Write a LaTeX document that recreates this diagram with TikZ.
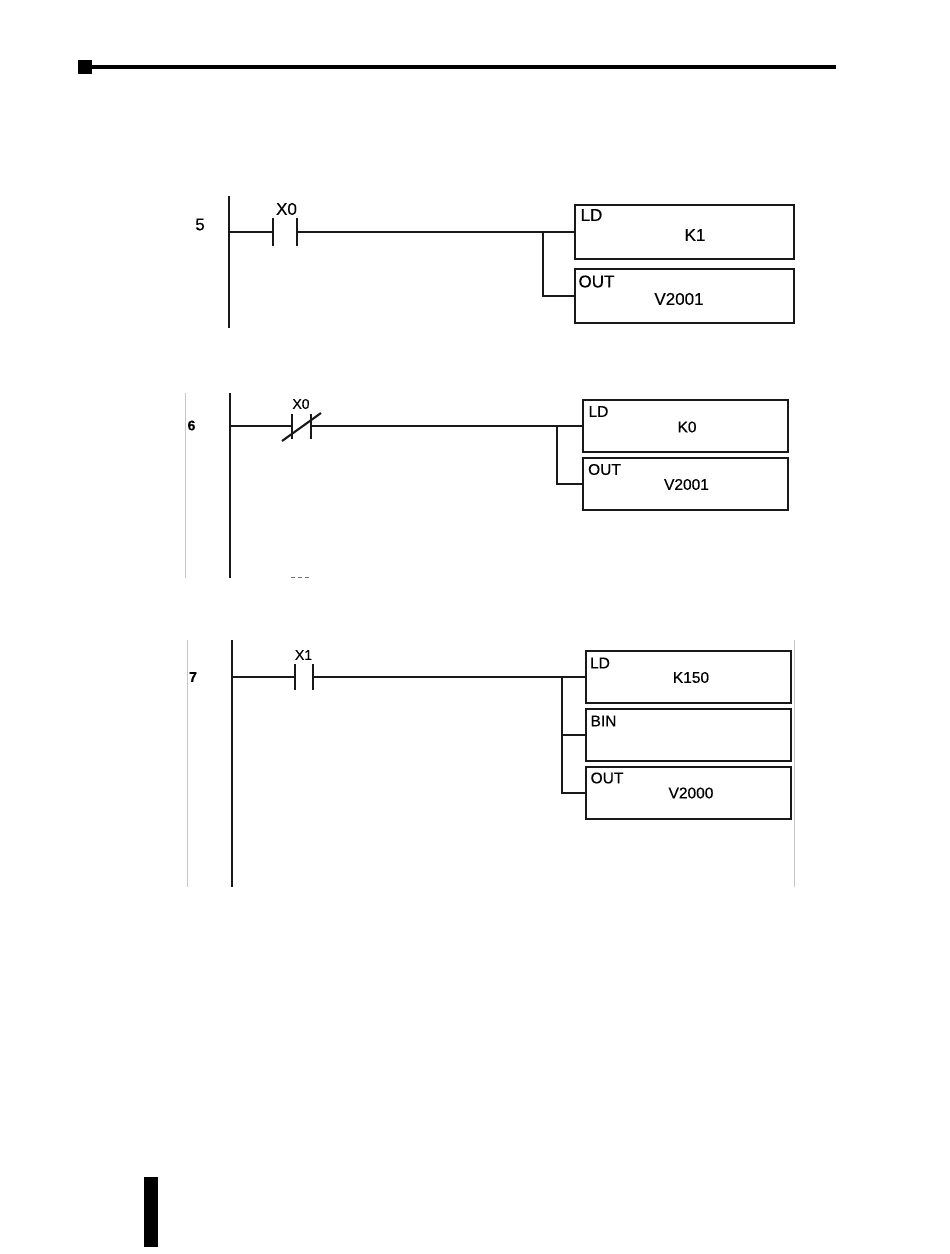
\documentclass[tikz,border=0pt]{standalone}
\usepackage{fontspec}
\setmainfont{Liberation Sans}
\newfontfamily\heavyf[FakeBold=0.35]{Liberation Sans}
\tikzset{
  wire/.style={line width=2.1pt,color=black!90},
  pbox/.style={draw=black!90,line width=2.4pt,fill=white,minimum width=#1,inner sep=0pt,outer sep=0pt},
  txtA/.style={font=\heavyf\fontsize{17}{18}\selectfont,inner sep=0pt},
  txtB/.style={font=\heavyf\fontsize{15.5}{16}\selectfont,inner sep=0pt},
  txtC/.style={font=\heavyf\fontsize{14}{15}\selectfont,inner sep=0pt},
  faint/.style={line width=0.7pt,color=black!22}
}
\begin{document}
\begin{tikzpicture}[x=1pt,y=-1pt]
\useasboundingbox (0,0) rectangle (950,1254);
% page furniture
\fill (78,60) rectangle (92,74);
\fill (92,64.5) rectangle (836,69);
\fill (144,1177) rectangle (158,1247);

% rung 5
\coordinate (r1t) at (229,196); \coordinate (r1b) at (229,328); \coordinate (r1) at (229,232);
\coordinate (c1a) at (273,232); \coordinate (c1b) at (297,232);
\coordinate (c1at) at (273,218); \coordinate (c1ab) at (273,246);
\coordinate (c1bt) at (297,218); \coordinate (c1bb) at (297,246);
\coordinate (j1) at (543,232);
\node[pbox=219pt,minimum height=54pt] (ld1) at (684.5,232) {};
\node[pbox=219pt,minimum height=54pt] (out1) at (684.5,296) {};
\draw[wire] (r1t) -- (r1b);
\draw[wire] (r1) -- (c1a);
\draw[wire] (c1at) -- (c1ab);
\draw[wire] (c1bt) -- (c1bb);
\draw[wire] (c1b) -- (ld1.west);
\draw[wire] (j1) |- (out1.west);
\node[txtA] (t5) at (200,224.5) {5};
\node[txtA] (x0a) at (286.5,209) {X0};
\node[txtA] (ldt1) at (591.5,215) {LD};
\node[txtA] (k1) at (695,235) {K1};
\node[txtA] (outt1) at (596.5,281.5) {OUT};
\node[txtA] (v1) at (679,299) {V2001};

% rung 6
\draw[faint] (185,393) -- (185,578);
\coordinate (r2t) at (230,393); \coordinate (r2b) at (230,578); \coordinate (r2) at (230,426);
\coordinate (c2a) at (292,426); \coordinate (c2b) at (311,426);
\coordinate (c2at) at (292,414); \coordinate (c2ab) at (292,439);
\coordinate (c2bt) at (311,414); \coordinate (c2bb) at (311,439);
\coordinate (c2sa) at (282,441); \coordinate (c2sb) at (321,413);
\coordinate (j2) at (557,426);
\node[pbox=205pt,minimum height=52pt] (ld2) at (685.5,426) {};
\node[pbox=205pt,minimum height=52pt] (out2) at (685.5,484) {};
\draw[wire] (r2t) -- (r2b);
\draw[wire] (r2) -- (c2a);
\draw[wire] (c2at) -- (c2ab);
\draw[wire] (c2bt) -- (c2bb);
\draw[wire] (c2sa) -- (c2sb);
\draw[wire] (c2b) -- (ld2.west);
\draw[wire] (j2) |- (out2.west);
\node[txtC] (t6) at (191.5,425.5) {\bfseries 6};
\node[txtC] (x0b) at (301,404) {X0};
\node[txtB] (ldt2) at (598.5,411.5) {LD};
\node[txtB] (k0) at (687,427) {K0};
\node[txtB] (outt2) at (604.5,469.5) {OUT};
\node[txtB] (v2) at (686.5,484.5) {V2001};
\draw[line width=1pt,color=black!55,dash pattern=on 4pt off 3pt] (291,577.5) -- (310,577.5);

% rung 7
\draw[faint] (187,640) -- (187,887);
\draw[faint] (794,640) -- (794,887);
\coordinate (r3t) at (232,640); \coordinate (r3b) at (232,887); \coordinate (r3) at (232,677);
\coordinate (c3a) at (295,677); \coordinate (c3b) at (313,677);
\coordinate (c3at) at (295,664); \coordinate (c3ab) at (295,690);
\coordinate (c3bt) at (313,664); \coordinate (c3bb) at (313,690);
\coordinate (j3) at (562,677);
\node[pbox=205pt,minimum height=52pt] (ld3) at (688.5,677) {};
\node[pbox=205pt,minimum height=52pt] (bin3) at (688.5,735) {};
\node[pbox=205pt,minimum height=52pt] (out3) at (688.5,793) {};
\draw[wire] (r3t) -- (r3b);
\draw[wire] (r3) -- (c3a);
\draw[wire] (c3at) -- (c3ab);
\draw[wire] (c3bt) -- (c3bb);
\draw[wire] (c3b) -- (ld3.west);
\draw[wire] (j3) |- (out3.west);
\draw[wire] (j3 |- bin3.west) -- (bin3.west);
\node[txtC] (t7) at (193,677) {\bfseries 7};
\node[txtC] (x1) at (303.5,655) {X1};
\node[txtB] (ldt3) at (600,663) {LD};
\node[txtB] (k150) at (691,677.5) {K150};
\node[txtB] (bint) at (603.5,721) {BIN};
\node[txtB] (outt3) at (607,778) {OUT};
\node[txtB] (v3) at (691,793) {V2000};
\end{tikzpicture}
\end{document}
